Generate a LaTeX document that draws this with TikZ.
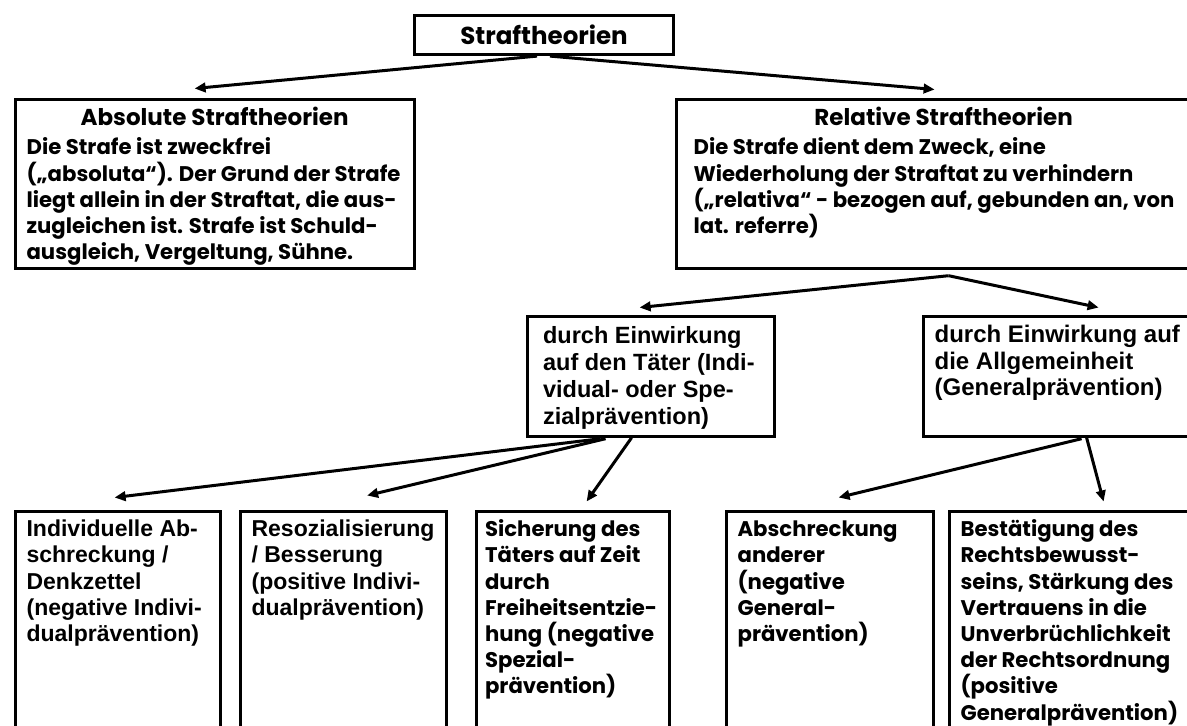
\documentclass[tikz,border=0pt]{standalone}
\usepackage{fontspec}
\setmainfont{Liberation Sans}
\newfontfamily\geofont{Poppins}
\usetikzlibrary{positioning,calc,arrows.meta}

\begin{document}
\begin{tikzpicture}[x=1pt,y=-1pt]
		\tikzset{boxstyle/.style={draw, line width=3.2pt, anchor=north west, inner xsep=11.5pt, inner ysep=0pt, font=\bfseries\fontsize{23}{26.2}\selectfont}}
		\tikzset{geobox/.style={boxstyle, font=\geofont\bfseries\fontsize{21.2}{26.2}\selectfont}}
		\tikzset{linkarrow/.style={-{Triangle[length=11pt,width=9.5pt]}, line width=3pt}}
		
		\useasboundingbox (0,0) rectangle (1187,726);
		
		\newcommand\drawBox[7] % {left} {top} {width} {height} {style} {name} {text}
		{
			\node[#5] at (#1, #2) (#6) {\parbox[t][#4pt][t]{#3pt}{\raggedright #7}};
		}
		\newcommand\boxTitle[1] % {title}
		{
			{\centering\fontsize{23}{26}\selectfont\rule{0pt}{26.5pt}#1\par}\vspace{3pt}
		}
		
		\node[geobox, anchor=center, inner xsep=0pt, minimum width=259pt, minimum height=39pt,
		font=\geofont\bfseries\fontsize{24.5}{26}\selectfont] at (544,35) (top) {Straftheorien};
		
		\drawBox{13.5}{97.5}{376}{169}{geobox}{abs}{\boxTitle{Absolute Straftheorien}
			Die Strafe ist zweckfrei\\
			(„absoluta“). Der Grund der Strafe\\
			liegt allein in der Straftat, die aus-\\
			zugleichen ist. Strafe ist Schuld-\\
			ausgleich, Vergeltung, Sühne.}
		\drawBox{674.5}{97.5}{500}{169}{geobox, inner xsep=17.5pt}{rel}{\boxTitle{Relative Straftheorien}
			Die Strafe dient dem Zweck, eine\\
			Wiederholung der Straftat zu verhindern\\
			(„relativa“ - bezogen auf, gebunden an, von\\
			lat. referre)}
		
		\drawBox{525.5}{314.5}{215}{120}{boxstyle, inner xsep=16pt, font=\bfseries\fontsize{23.5}{27}\selectfont}{taeter}{\rule{0pt}{27.5pt}durch Einwirkung\\
			auf den Täter (Indi-\\
			vidual- oder Spe-\\
			zialprävention)}
		\drawBox{921.5}{314.5}{254}{120}{boxstyle, font=\bfseries\fontsize{24}{26.5}\selectfont}{allg}{\rule{0pt}{26.5pt}durch Einwirkung auf\\
			die Allgemeinheit\\
			(Generalprävention)}
		
		\drawBox{13.5}{509.5}{182}{250}{boxstyle}{indiv}{\rule{0pt}{25.5pt}Individuelle Ab-\\
			schreckung /\\
			Denkzettel\\
			(negative Indivi-\\
			dualprävention)}
		\drawBox{238.5}{509.5}{183}{250}{boxstyle}{reso}{\rule{0pt}{25.5pt}Resozialisierung\\
			/ Besserung\\
			(positive Indivi-\\
			dualprävention)}
		\drawBox{474.5}{509.5}{175}{250}{geobox, inner xsep=9pt}{sicher}{\rule{0pt}{25.5pt}Sicherung des\\
			Täters auf Zeit\\
			durch\\
			Freiheitsentzie-\\
			hung (negative\\
			Spezial-\\
			prävention)}
		\drawBox{724.5}{509.5}{184}{250}{geobox}{abschr}{\rule{0pt}{25.5pt}Abschreckung\\
			anderer\\
			(negative\\
			General-\\
			prävention)}
		\drawBox{947.5}{509.5}{238}{250}{geobox}{bestaet}{\rule{0pt}{25.5pt}Bestätigung des\\
			Rechtsbewusst-\\
			seins, Stärkung des\\
			Vertrauens in die\\
			Unverbrüchlichkeit\\
			der Rechtsordnung\\
			(positive\\
			Generalprävention)}
		
		\draw[linkarrow] ($(top.south)+(-7,0)$) to ($(abs.north)+(-20,-9)$);
		\draw[linkarrow] ($(top.south)+(6,0)$) to ($(rel.north)+(-9,-8)$);
		
		\draw[linkarrow] ($(rel.south)+(5,6)$) to ($(taeter.north)+(-11,-7)$);
		\draw[linkarrow] ($(rel.south)+(5,6)$) to ($(allg.north)+(37,-7)$);
		
		\draw[linkarrow] ($(taeter.south)+(-50,1)$) to ($(indiv.north)+(-3,-12)$);
		\draw[linkarrow] ($(taeter.south)+(-45,1)$) to ($(reso.north)+(24,-14)$);
		\draw[linkarrow] ($(taeter.south)+(-19,0)$) to ($(sicher.north)+(14,-8)$);
		
		\draw[linkarrow] ($(allg.south)+(20,1)$) to ($(abschr.north)+(9,-12)$);
		\draw[linkarrow] ($(allg.south)+(25,0)$) to ($(bestaet.north)+(24,-8)$);
		
\end{tikzpicture}
\end{document}
